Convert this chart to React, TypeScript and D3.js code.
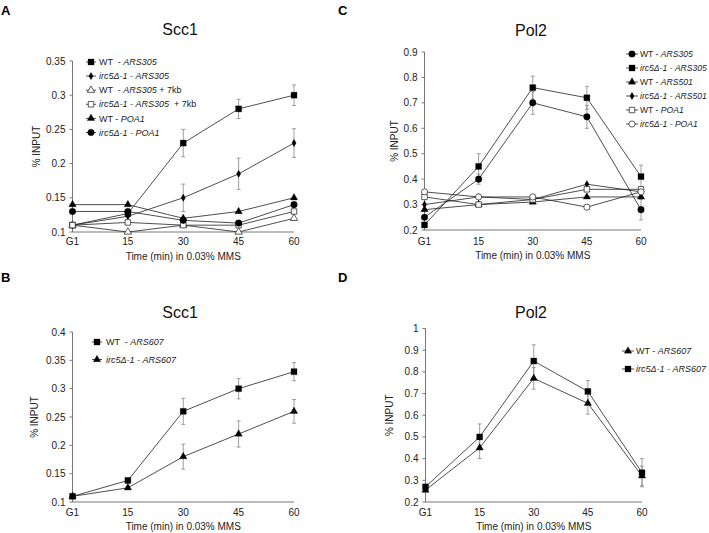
import React from "react";
import * as d3 from "d3";

const categories = ["G1", "15", "30", "45", "60"];

// Panel A (Scc1)
const aTicks = [0.1, 0.15, 0.2, 0.25, 0.3, 0.35];
const aWtArs305 = [0.11, 0.127, 0.23, 0.28, 0.3];
const aWtArs305Err = [0, 0.003, 0.02, 0.014, 0.015];
const aIrcArs305 = [0.11, 0.123, 0.15, 0.185, 0.23];
const aIrcArs305Err = [0, 0, 0.02, 0.023, 0.021];
const aWt7kb = [0.11, 0.1, 0.11, 0.1, 0.12];
const aIrc7kb = [0.11, 0.114, 0.11, 0.11, 0.13];
const aWtPoa1 = [0.14, 0.14, 0.12, 0.13, 0.15];
const aIrcPoa1 = [0.13, 0.13, 0.117, 0.113, 0.14];

// Panel B (Scc1)
const bTicks = [0.1, 0.15, 0.2, 0.25, 0.3, 0.35, 0.4];
const bWtArs607 = [0.11, 0.138, 0.26, 0.3, 0.33];
const bWtArs607Err = [0, 0.005, 0.023, 0.018, 0.016];
const bIrcArs607 = [0.11, 0.125, 0.18, 0.22, 0.26];
const bIrcArs607Err = [0, 0.003, 0.022, 0.023, 0.021];

// Panel C (Pol2)
const cTicks = [0.2, 0.3, 0.4, 0.5, 0.6, 0.7, 0.8, 0.9];
const cWtArs305 = [0.25, 0.4, 0.7, 0.645, 0.28];
const cWtArs305Err = [0, 0.02, 0.045, 0.045, 0.04];
const cIrcArs305 = [0.22, 0.45, 0.76, 0.72, 0.41];
const cIrcArs305Err = [0, 0.05, 0.045, 0.045, 0.045];
const cWtArs501 = [0.28, 0.3, 0.31, 0.33, 0.33];
const cIrcArs501 = [0.3, 0.33, 0.32, 0.38, 0.35];
const cWtPoa1 = [0.33, 0.3, 0.32, 0.36, 0.36];
const cIrcPoa1 = [0.35, 0.33, 0.33, 0.29, 0.35];

// Panel D (Pol2)
const dTicks = [0.2, 0.3, 0.4, 0.5, 0.6, 0.7, 0.8, 0.9, 1];
const dWtArs607 = [0.255, 0.45, 0.77, 0.655, 0.32];
const dWtArs607Err = [0.01, 0.05, 0.05, 0.05, 0.045];
const dIrcArs607 = [0.27, 0.5, 0.85, 0.71, 0.335];
const dIrcArs607Err = [0.01, 0.06, 0.075, 0.05, 0.065];

const FONT = "'Liberation Sans', Arial, Helvetica, sans-serif";

type Seg = { t: string; i?: boolean };
type Series = {
  values: number[];
  err?: number[];
  marker: "square" | "osquare" | "triangle" | "otriangle" | "circle" | "ocircle" | "diamond";
  label: Seg[];
};

type PanelProps = {
  letter: string;
  letterX: number;
  letterY: number;
  title: string;
  titleX: number;
  titleY: number;
  x0: number;
  x1: number;
  yTop: number;
  yBottom: number;
  ticks: number[];
  series: Series[];
  yLabelX: number;
  tickLabelY: number;
  xLabelY: number;
  legX: number;
  legLineHalf: number;
  legTextX: number;
  legY0: number;
  legDy: number;
  legFont: number;
};

function Marker({ kind, x, y }: { kind: Series["marker"]; x: number; y: number }) {
  const open = kind.startsWith("o");
  let type: d3.SymbolType = d3.symbolSquare;
  let size = 36;
  if (kind === "square" || kind === "osquare") {
    type = d3.symbolSquare;
    size = kind === "square" ? 36 : 30;
  } else if (kind === "triangle" || kind === "otriangle") {
    type = d3.symbolTriangle;
    size = 24;
  } else if (kind === "circle" || kind === "ocircle") {
    type = d3.symbolCircle;
    size = kind === "circle" ? 34 : 30;
  } else if (kind === "diamond") {
    type = d3.symbolDiamond;
    size = 16;
  }
  const p = d3.symbol().type(type).size(size)() || "";
  return (
    <path
      d={p}
      transform={`translate(${x},${y})`}
      fill={open ? "#fff" : "#000"}
      stroke={open ? "#333" : "#000"}
      strokeWidth={open ? 0.8 : 0.3}
    />
  );
}

function Panel(p: PanelProps) {
  const xs = d3.scalePoint<string>().domain(categories).range([p.x0, p.x1]).padding(0);
  const ys = d3
    .scaleLinear()
    .domain([p.ticks[0], p.ticks[p.ticks.length - 1]])
    .range([p.yBottom, p.yTop]);
  const line = d3
    .line<number>()
    .x((_, i) => xs(categories[i]) as number)
    .y((v) => ys(v));
  const fmt = (v: number) => String(+v.toFixed(2));
  const xMid = (p.x0 + p.x1) / 2;
  return (
    <g fontFamily={FONT}>
      <text x={p.letterX} y={p.letterY} fontSize={13} fontWeight="bold" fill="#000">
        {p.letter}
      </text>
      <text x={p.titleX} y={p.titleY} fontSize={16} textAnchor="middle" fill="#111">
        {p.title}
      </text>
      <line x1={p.x0} x2={p.x0} y1={p.yTop} y2={p.yBottom} stroke="#555" strokeWidth={0.8} />
      <line x1={p.x0} x2={p.x1} y1={p.yBottom} y2={p.yBottom} stroke="#555" strokeWidth={0.8} />
      {p.ticks.map((t) => (
        <g key={t}>
          <line x1={p.x0 - 3} x2={p.x0} y1={ys(t)} y2={ys(t)} stroke="#555" strokeWidth={0.8} />
          <text x={p.x0 - 7} y={ys(t)} dy="0.35em" fontSize={10} textAnchor="end" fill="#222">
            {fmt(t)}
          </text>
        </g>
      ))}
      {categories.map((c) => (
        <text key={c} x={xs(c)} y={p.tickLabelY} fontSize={10} textAnchor="middle" fill="#222">
          {c}
        </text>
      ))}
      <text x={xMid} y={p.xLabelY} fontSize={10} textAnchor="middle" fill="#222">
        Time (min) in 0.03% MMS
      </text>
      <text
        transform={`translate(${p.yLabelX},${(p.yTop + p.yBottom) / 2}) rotate(-90)`}
        fontSize={10}
        textAnchor="middle"
        dy="0.35em"
        fill="#222"
      >
        % INPUT
      </text>
      {p.series.map((s, si) =>
        (s.err || []).map((e, i) => {
          const cx = xs(categories[i]) as number;
          return e > 0 ? (
            <g key={`e${si}-${i}`} stroke="#888" strokeWidth={0.8}>
              <line x1={cx} x2={cx} y1={ys(s.values[i] + e)} y2={ys(s.values[i] - e)} />
              <line x1={cx - 2} x2={cx + 2} y1={ys(s.values[i] + e)} y2={ys(s.values[i] + e)} />
              <line x1={cx - 2} x2={cx + 2} y1={ys(s.values[i] - e)} y2={ys(s.values[i] - e)} />
            </g>
          ) : null;
        })
      )}
      {p.series.map((s, si) => (
        <path key={`l${si}`} d={line(s.values) || ""} fill="none" stroke="#222" strokeWidth={0.8} />
      ))}
      {p.series.map((s, si) =>
        s.values.map((v, i) => (
          <Marker key={`m${si}-${i}`} kind={s.marker} x={xs(categories[i]) as number} y={ys(v)} />
        ))
      )}
      {p.series.map((s, si) => {
        const y = p.legY0 + si * p.legDy;
        return (
          <g key={`lg${si}`}>
            <line
              x1={p.legX - p.legLineHalf}
              x2={p.legX + p.legLineHalf}
              y1={y}
              y2={y}
              stroke="#222"
              strokeWidth={0.8}
            />
            <Marker kind={s.marker} x={p.legX} y={y} />
            <text
              x={p.legTextX}
              y={y}
              dy="0.35em"
              fontSize={p.legFont}
              fill="#222"
              style={{ whiteSpace: "pre" }}
            >
              {s.label.map((g, gi) => (
                <tspan key={gi} fontStyle={g.i ? "italic" : "normal"}>
                  {g.t}
                </tspan>
              ))}
            </text>
          </g>
        );
      })}
    </g>
  );
}

const IRC = "irc5Δ-1";

export default function App() {
  const seriesA: Series[] = [
    { values: aWtArs305, err: aWtArs305Err, marker: "square", label: [{ t: "WT  - " }, { t: "ARS305", i: true }] },
    { values: aIrcArs305, err: aIrcArs305Err, marker: "diamond", label: [{ t: `${IRC} - ARS305`, i: true }] },
    { values: aWt7kb, marker: "otriangle", label: [{ t: "WT  - " }, { t: "ARS305", i: true }, { t: " + 7kb" }] },
    { values: aIrc7kb, marker: "osquare", label: [{ t: `${IRC} - ARS305`, i: true }, { t: "  + 7kb" }] },
    { values: aWtPoa1, marker: "triangle", label: [{ t: "WT - " }, { t: "POA1", i: true }] },
    { values: aIrcPoa1, marker: "circle", label: [{ t: `${IRC} - POA1`, i: true }] },
  ];
  const seriesB: Series[] = [
    { values: bWtArs607, err: bWtArs607Err, marker: "square", label: [{ t: "WT  - " }, { t: "ARS607", i: true }] },
    { values: bIrcArs607, err: bIrcArs607Err, marker: "triangle", label: [{ t: `${IRC} - ARS607`, i: true }] },
  ];
  const seriesC: Series[] = [
    { values: cWtArs305, err: cWtArs305Err, marker: "circle", label: [{ t: "WT - " }, { t: "ARS305", i: true }] },
    { values: cIrcArs305, err: cIrcArs305Err, marker: "square", label: [{ t: `${IRC} - ARS305`, i: true }] },
    { values: cWtArs501, marker: "triangle", label: [{ t: "WT - " }, { t: "ARS501", i: true }] },
    { values: cIrcArs501, marker: "diamond", label: [{ t: `${IRC} - ARS501`, i: true }] },
    { values: cWtPoa1, marker: "osquare", label: [{ t: "WT - " }, { t: "POA1", i: true }] },
    { values: cIrcPoa1, marker: "ocircle", label: [{ t: `${IRC} - POA1`, i: true }] },
  ];
  const seriesD: Series[] = [
    { values: dWtArs607, err: dWtArs607Err, marker: "triangle", label: [{ t: "WT - " }, { t: "ARS607", i: true }] },
    { values: dIrcArs607, err: dIrcArs607Err, marker: "square", label: [{ t: `${IRC} - ARS607`, i: true }] },
  ];
  return (
    <svg width={709} height={533} style={{ position: "absolute", left: 0, top: 0, background: "#fff" }}>
      <rect width={709} height={533} fill="#fff" />
      <Panel
        letter="A" letterX={1} letterY={15}
        title="Scc1" titleX={180} titleY={35}
        x0={72.5} x1={294} yTop={61} yBottom={232}
        ticks={aTicks} series={seriesA}
        yLabelX={36} tickLabelY={245} xLabelY={260}
        legX={91} legLineHalf={5} legTextX={99} legY0={62} legDy={14.1} legFont={9}
      />
      <Panel
        letter="B" letterX={1} letterY={282}
        title="Scc1" titleX={180} titleY={318}
        x0={72.5} x1={294} yTop={332} yBottom={502}
        ticks={bTicks} series={seriesB}
        yLabelX={34} tickLabelY={516} xLabelY={530}
        legX={97} legLineHalf={5} legTextX={106} legY0={342} legDy={17.5} legFont={9}
      />
      <Panel
        letter="C" letterX={338} letterY={15}
        title="Pol2" titleX={531} titleY={36}
        x0={424.5} x1={641} yTop={52} yBottom={230}
        ticks={cTicks} series={seriesC}
        yLabelX={394} tickLabelY={245} xLabelY={259}
        legX={632} legLineHalf={6} legTextX={640} legY0={54} legDy={14} legFont={8.6}
      />
      <Panel
        letter="D" letterX={338} letterY={282}
        title="Pol2" titleX={531} titleY={318}
        x0={425.5} x1={642} yTop={328.5} yBottom={502}
        ticks={dTicks} series={seriesD}
        yLabelX={389} tickLabelY={516} xLabelY={530}
        legX={628} legLineHalf={6} legTextX={636} legY0={351} legDy={18} legFont={9}
      />
    </svg>
  );
}
